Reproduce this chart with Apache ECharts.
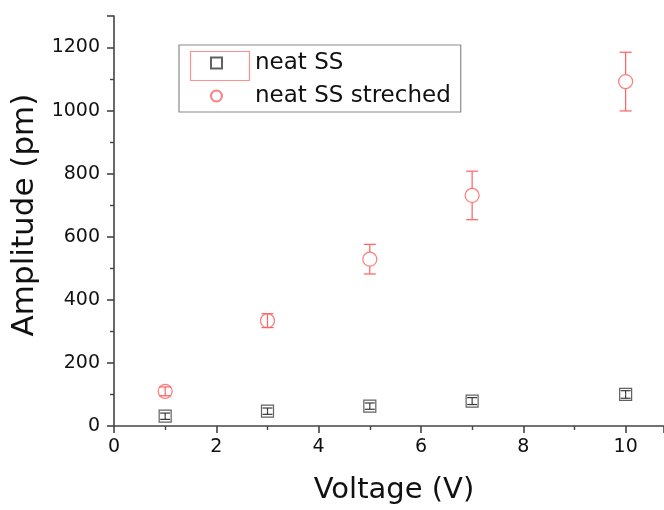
<!DOCTYPE html>
<html>
<head>
<meta charset="utf-8">
<script src="https://cdn.jsdelivr.net/npm/echarts@6/dist/echarts.min.js"></script>
<style>html,body{margin:0;padding:0;background:#fff;overflow:hidden;}#c{width:664px;height:510px;}</style>
</head>
<body>
<div id="c"></div>
<script>
var voltage = [1, 3, 5, 7, 10];
var neatSS = [31, 47, 63, 79, 100];
var neatSSErr = [10, 10, 10, 11, 12];
var stretched = [110, 334, 529, 731, 1092];
var stretchedErr = [14, 22, 47, 77, 93];
var xTicks = [0, 2, 4, 6, 8, 10];
var yTicks = [0, 200, 400, 600, 800, 1000, 1200];

var RED = '#ff5f5f';
var BLACK = '#3a3a3a';
var FONT = '"DejaVu Sans", sans-serif';

function pts(xs, ys) { return xs.map(function (x, i) { return [x, ys[i]]; }); }
function errs(xs, ys, es) { return xs.map(function (x, i) { return [x, ys[i] - es[i], ys[i] + es[i], ys[i]]; }); }

function errRender(color, capHalf, radius) {
  return function (params, api) {
    var x = api.value(0);
    var lo = api.coord([x, api.value(1)]);
    var hi = api.coord([x, api.value(2)]);
    var mid = api.coord([x, api.value(3)]);
    var st = { stroke: color, lineWidth: 1.2 };
    var ch = [];
    var upStart = (mid[1] - hi[1] > radius) ? mid[1] - radius : mid[1];
    ch.push({ type: 'line', shape: { x1: mid[0], y1: upStart, x2: hi[0], y2: hi[1] }, style: st });
    var dnStart = (lo[1] - mid[1] > radius) ? mid[1] + radius : mid[1];
    ch.push({ type: 'line', shape: { x1: mid[0], y1: dnStart, x2: lo[0], y2: lo[1] }, style: st });
    ch.push({ type: 'line', shape: { x1: hi[0] - capHalf, y1: hi[1], x2: hi[0] + capHalf, y2: hi[1] }, style: st });
    ch.push({ type: 'line', shape: { x1: lo[0] - capHalf, y1: lo[1], x2: lo[0] + capHalf, y2: lo[1] }, style: st });
    return { type: 'group', children: ch };
  };
}

var chart = echarts.init(document.getElementById('c'), null, { renderer: 'canvas', width: 664, height: 510 });
chart.setOption({
  backgroundColor: '#fff',
  animation: false,
  grid: { left: 114, top: 16, width: 550, height: 413, containLabel: false },
  xAxis: {
    type: 'value', min: 0, max: 10.75, interval: 2,
    name: 'Voltage (V)', nameLocation: 'middle', nameGap: 50,
    nameTextStyle: { fontFamily: FONT, fontSize: 29, color: '#111', padding: [0, 0, 0, 10] },
    axisLine: { show: true, lineStyle: { color: '#444', width: 1.6 } },
    axisTick: { show: true, inside: false, length: 7, lineStyle: { color: '#444', width: 1.6 } },
    minorTick: { show: true, splitNumber: 2, length: 4, lineStyle: { color: '#444', width: 1.4 } },
    axisLabel: { fontFamily: FONT, fontSize: 19, color: '#111', margin: 12, showMaxLabel: false,
      formatter: function (v) { return xTicks.indexOf(v) >= 0 ? String(v) : ''; } },
    splitLine: { show: false }
  },
  yAxis: {
    type: 'value', min: 0, max: 1300, interval: 200,
    name: 'Amplitude (pm)', nameLocation: 'middle', nameGap: 68,
    nameTextStyle: { fontFamily: FONT, fontSize: 31, color: '#111', padding: [0, 0, 0, 12] },
    axisLine: { show: true, lineStyle: { color: '#444', width: 1.6 } },
    axisTick: { show: true, inside: false, length: 7, lineStyle: { color: '#444', width: 1.6 } },
    minorTick: { show: true, splitNumber: 2, length: 4, lineStyle: { color: '#444', width: 1.4 } },
    axisLabel: { fontFamily: FONT, fontSize: 19, color: '#111', margin: 14, showMaxLabel: false,
      formatter: function (v) { return yTicks.indexOf(v) >= 0 ? String(v) : ''; } },
    splitLine: { show: false }
  },
  legend: {
    left: 179, top: 45, orient: 'vertical',
    data: ['neat SS', 'neat SS streched'],
    borderColor: '#8a8a8a', borderWidth: 1.2, borderRadius: 0,
    padding: [6, 10, 4, 31], itemGap: 9, itemWidth: 11, itemHeight: 11,
    textStyle: { fontFamily: FONT, fontSize: 23, color: '#111', lineHeight: 24, padding: [0, 0, 0, 28] },
    selectedMode: false
  },
  graphic: [{
    type: 'rect', left: 188, top: 49, shape: { width: 59, height: 29 },
    style: { fill: 'none', stroke: '#ff9090', lineWidth: 1.2 }, z: 200
  }],
  series: [
    {
      name: 'neat SS', type: 'scatter', symbol: 'rect', symbolSize: 12,
      data: pts(voltage, neatSS),
      itemStyle: { color: 'rgba(255,255,255,0)', borderColor: BLACK, borderWidth: 1.2 }, z: 3
    },
    {
      name: 'neat SS err', type: 'custom', renderItem: errRender(BLACK, 5, 0),
      data: errs(voltage, neatSS, neatSSErr), z: 4, silent: true
    },
    {
      name: 'neat SS streched', type: 'scatter', symbol: 'circle', symbolSize: 14,
      data: pts(voltage, stretched),
      itemStyle: { color: 'rgba(255,255,255,0)', borderColor: RED, borderWidth: 1.3 }, z: 3
    },
    {
      name: 'neat SS streched err', type: 'custom', renderItem: errRender(RED, 6, 7),
      data: errs(voltage, stretched, stretchedErr), z: 4, silent: true
    }
  ]
});
</script>
</body>
</html>
